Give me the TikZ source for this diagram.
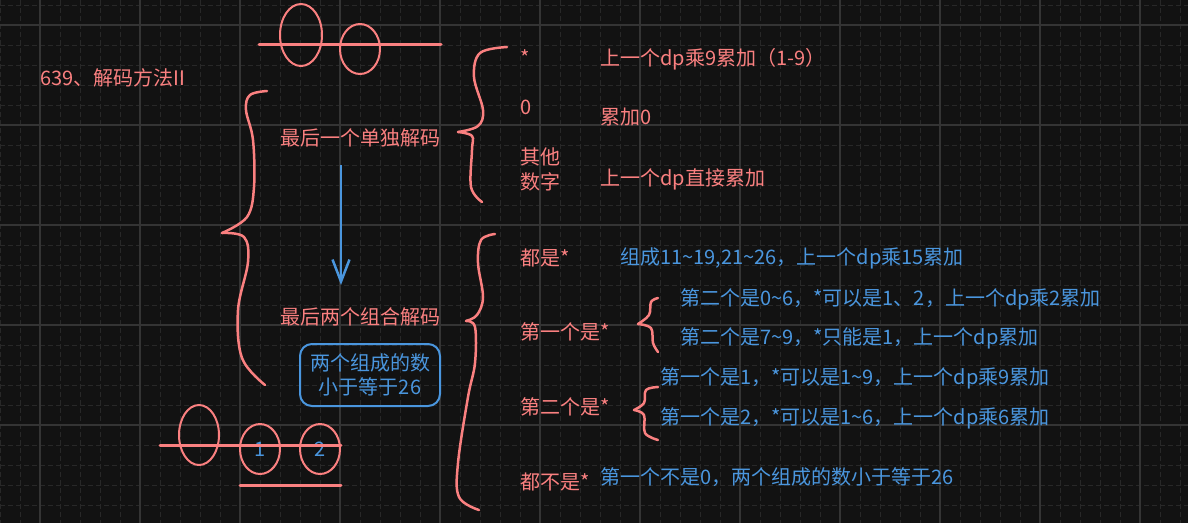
\documentclass[tikz,border=0pt]{standalone}
\usepackage{fontspec}
\setmainfont{Noto Sans CJK SC}
\usetikzlibrary{positioning,arrows.meta,shapes.geometric}
\definecolor{bgc}{RGB}{18,18,18}
\definecolor{majgrid}{RGB}{52,52,52}
\definecolor{mingrid}{RGB}{40,40,40}
\definecolor{pnk}{RGB}{250,128,128}
\definecolor{blu}{RGB}{74,150,222}
\tikzset{txt/.style = {anchor=base west, inner sep=0pt, font=\fontsize{20}{25}\selectfont},
  ptxt/.style = {txt, text=pnk},
  btxt/.style = {txt, text=blu},
  pen/.style = {draw=pnk, line width=2.5pt, line cap=round, line join=round},
  ring/.style = {ellipse, draw=pnk, line width=2pt, minimum width=40pt, minimum height=50pt, inner sep=0pt, text=blu, font=\fontsize{20}{24}\selectfont}}

\begin{document}
\begin{tikzpicture}[x=1pt, y=-1pt]
        \useasboundingbox (0,0) rectangle (1188,523);
        \fill[bgc] (0,0) rectangle (1188,523);
        \foreach \x in {0,20,...,1180} \draw[mingrid, line width=1pt, dash pattern=on 5pt off 3pt] (\x,0) -- (\x,523);
        \foreach \y in {5,25,...,505} \draw[mingrid, line width=1pt, dash pattern=on 5pt off 3pt] (0,\y) -- (1188,\y);
        \foreach \x in {40,140,...,1140} \draw[majgrid, line width=1.2pt] (\x,0) -- (\x,523);
        \foreach \y in {25,125,...,425} \draw[majgrid, line width=1.2pt] (0,\y) -- (1188,\y);

        \node [ptxt] (title) at (40,85) {639、解码方法II};

        \node [ring, minimum width=42pt, minimum height=62pt] (t1) at (301,35) {};
        \node [ring] (t2) at (360,49) {};
        \draw [pen, line width=3pt] (259,44) -- (441,44);

        \draw [pen] plot [smooth, tension=0.6] coordinates {(267,91) (250,95) (246,110) (253,140) (254,187) (247,217) (222,233)};
        \draw [pen] plot [smooth, tension=0.6] coordinates {(222,233) (244,237) (248,262) (238,310) (242,358) (265,385)};

        \node [ptxt] (single) at (280,145) {最后一个单独解码};
        \node [ptxt] (pair) at (280,324) {最后两个组合解码};
        \coordinate (a1) at (341,165);
        \coordinate (a2) at (341,285);
        \draw [blu, line width=2.5pt, -{Straight Barb[length=22pt, width=17pt]}] (a1) -- (a2);

        \node [draw=blu, line width=2pt, rounded corners=12pt, minimum width=140pt, minimum height=62pt,
               align=center, text=blu, inner sep=0pt, font=\fontsize{20}{24}\selectfont] (cond) at (370,375) {两个组成的数\\小于等于26};

        \node [ring, minimum height=60pt] (r0) at (199,435) {};
        \node [ring] (r1) at (260,449) {1};
        \node [ring] (r2) at (320,449) {2};
        \draw [pen, line width=3pt] (160,445) -- (341,445);
        \draw [pen, line width=3pt] (240,485) -- (341,485);

        \draw [pen] plot [smooth, tension=0.6] coordinates {(507,47) (480,53) (474,77) (483,110) (478,126) (458,132)};
        \draw [pen] plot [smooth, tension=0.6] coordinates {(458,132) (472,136) (472,150) (471,187) (482,202)};

        \node [ptxt] (star) at (520,65) {*};
        \node [ptxt] (zero) at (520,114) {0};
        \node [ptxt, align=left] (other) at (520,189) {其他\\数字};
        \node [ptxt] (s1) at (600,65) {上一个dp乘9累加（1-9）};
        \node [ptxt] (s2) at (600,124) {累加0};
        \node [ptxt] (s3) at (600,185) {上一个dp直接累加};

        \draw [pen] plot [smooth, tension=0.6] coordinates {(495,234) (481,240) (478,263) (483,297) (477,315) (466,321)};
        \draw [pen] plot [smooth, tension=0.6] coordinates {(466,321) (475,327) (475,363) (468,397) (458,463) (459,497) (479,510)};

        \node [ptxt] (both) at (520,265) {都是*};
        \node [ptxt] (first) at (520,339) {第一个是*};
        \node [ptxt] (second) at (520,414) {第二个是*};
        \node [ptxt] (none) at (520,489) {都不是*};

        \node [btxt] (b1) at (620,264) {组成11\textasciitilde19,21\textasciitilde26，上一个dp乘15累加};

        \draw [pen] plot [smooth, tension=0.6] coordinates {(658,298) (651,302) (649,315) (638,324)};
        \draw [pen] plot [smooth, tension=0.6] coordinates {(638,324) (651,328) (653,343) (658,352)};
        \node [btxt] (f1) at (680,305) {第二个是0\textasciitilde6，*可以是1、2，上一个dp乘2累加};
        \node [btxt] (f2) at (680,344) {第二个是7\textasciitilde9，*只能是1，上一个dp累加};

        \draw [pen] plot [smooth, tension=0.6] coordinates {(658,387) (646,390) (644,403) (634,410)};
        \draw [pen] plot [smooth, tension=0.6] coordinates {(634,410) (644,415) (645,433) (658,440)};
        \node [btxt] (g1) at (660,384) {第一个是1，*可以是1\textasciitilde9，上一个dp乘9累加};
        \node [btxt] (g2) at (660,424) {第一个是2，*可以是1\textasciitilde6，上一个dp乘6累加};

        \node [btxt] (n1) at (600,484) {第一个不是0，两个组成的数小于等于26};
\end{tikzpicture}
\end{document}
